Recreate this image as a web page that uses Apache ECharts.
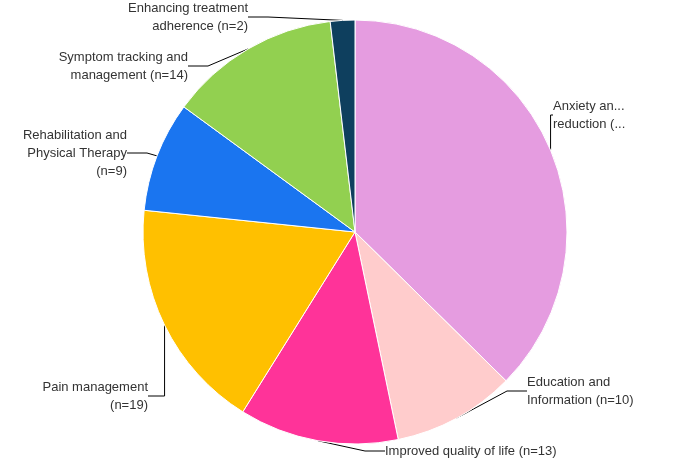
<!DOCTYPE html><html><head><meta charset="utf-8">
<script src="https://cdn.jsdelivr.net/npm/echarts@6/dist/echarts.min.js"></script>
<style>html,body{margin:0;background:#fff}#c{width:680px;height:462px}</style></head><body><div id="c"></div>
<script>
const labels=["Anxiety and stress\nreduction (n=40)","Education and\nInformation (n=10)","Improved quality of life (n=13)","Pain management\n(n=19)","Rehabilitation and\nPhysical Therapy\n(n=9)","Symptom tracking and\nmanagement (n=14)","Enhancing treatment\nadherence (n=2)"];
const values=[40,10,13,19,9,14,2];
const colors=["#E59CE0","#FFCCCC","#FF3399","#FFC000","#1A75F0","#92D050","#0E3F5E"];
const labelPos=[[553,115,'left'],[527,391,'left'],[385,451,'left'],[148,396,'right'],[127,153,'right'],[188,66,'right'],[248,17,'right']];
const chart=echarts.init(document.getElementById('c'));
chart.setOption({animation:false,series:[{type:'pie',center:[355,232],radius:[0,212],startAngle:90,clockwise:true,
itemStyle:{borderColor:'#fff',borderWidth:1},
label:{color:'#333',fontSize:13,fontFamily:'Liberation Sans',lineHeight:18},
labelLine:{show:true,lineStyle:{color:'#000',width:1},length:20,length2:20},
labelLayout:function(p){const l=labelPos[p.dataIndex];return {x:l[0],y:l[1],align:l[2],verticalAlign:'middle'};},
data:values.map((v,i)=>({name:labels[i],value:v,itemStyle:{color:colors[i]}}))}]});
</script></body></html>
